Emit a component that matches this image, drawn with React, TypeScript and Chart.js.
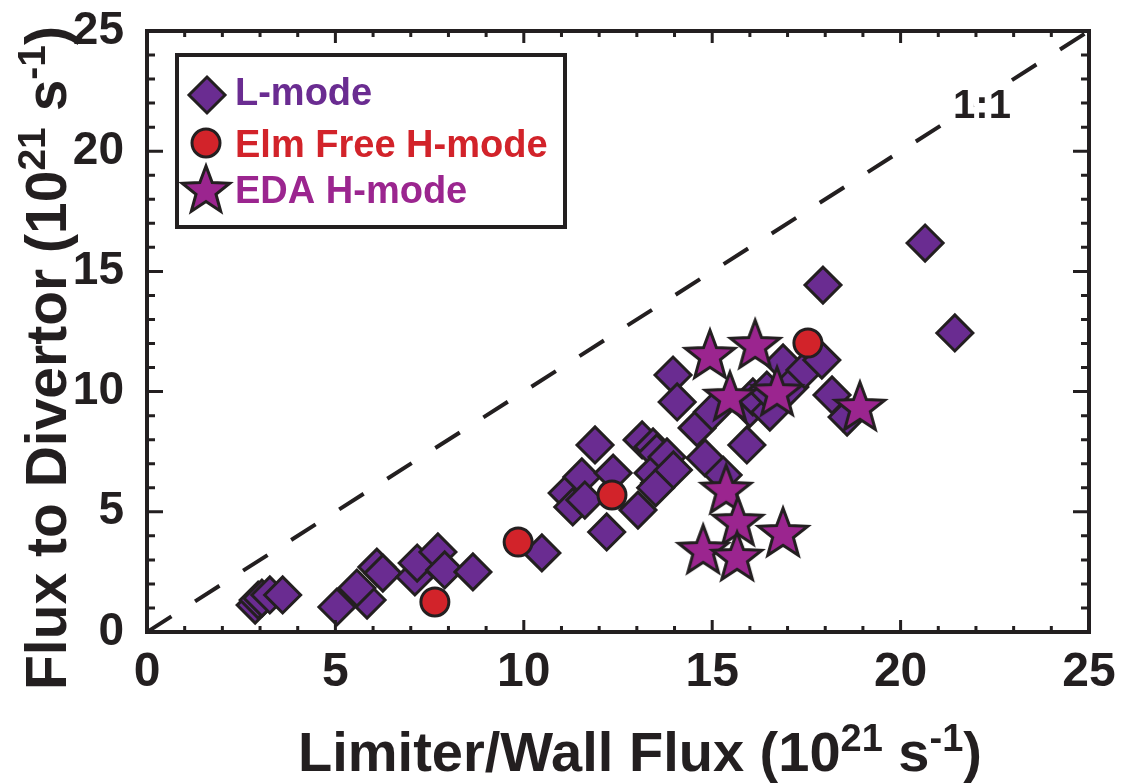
import { useEffect, useRef } from 'react';
import { Chart, registerables } from 'chart.js';

Chart.register(...registerables);

const FONT = '"Liberation Sans", Arial, Helvetica, sans-serif';

// ---- data ----
const lModeX = [2.87, 2.95, 3.05, 3.26, 3.6, 5.04, 5.84, 5.57, 6.1, 6.26, 7.11, 7.17, 7.72, 7.9, 8.65, 10.48,
  11.15, 11.3, 11.54, 11.62, 11.89, 12.2, 12.37, 13.03, 13.14, 13.43, 13.53, 13.6, 13.43, 13.8, 13.5, 13.97,
  13.96, 14.07, 14.6, 14.81, 15.0, 15.29, 15.92, 16.0, 16.08, 16.53, 16.45, 16.88, 17.06, 17.46, 17.91, 17.94,
  18.18, 18.58, 20.65, 21.44];
const lModeY = [1.12, 1.33, 1.41, 1.54, 1.54, 1.04, 1.33, 1.83, 2.7, 2.45, 2.29, 2.87, 3.33, 2.58, 2.5, 3.29,
  5.78, 5.2, 6.45, 5.49, 7.78, 4.16, 6.61, 5.07, 7.99, 7.7, 7.45, 6.2, 6.61, 7.28, 6.0, 6.74,
  10.69, 9.57, 8.49, 7.24, 9.15, 6.53, 7.78, 9.3, 9.78, 9.15, 10.06, 11.19, 10.19, 10.9, 11.31, 14.43,
  9.86, 8.94, 16.18, 12.44];
const elmX = [7.64, 9.85, 12.34, 17.54];
const elmY = [1.25, 3.74, 5.7, 12.02];
const edaX = [14.94, 16.14, 15.47, 16.72, 18.92, 15.37, 15.68, 16.88, 14.76, 15.66];
const edaY = [11.52, 11.94, 9.78, 9.98, 9.36, 5.91, 4.58, 4.12, 3.41, 3.12];
const unityLine = [0, 25];
const xTickValues = [0, 5, 10, 15, 20, 25];
const yTickValues = [0, 5, 10, 15, 20, 25];
const minorStep = 1;
const seriesLabels = ['L-mode', 'Elm Free H-mode', 'EDA H-mode'];
const unityLabel = '1:1';
const xTitleParts = ['Limiter/Wall Flux (10', '21', ' s', '-1', ')'];
const yTitleParts = ['Flux to Divertor (10', '21', ' s', '-1', ')'];

// ---- styles ----
const EDGE = '#231f20';
const PURPLE = '#6a2c91';
const RED = '#d2232a';
const MAGENTA = '#9b258f';

function starPath(ctx: CanvasRenderingContext2D, cx: number, cy: number, R: number, r: number) {
  ctx.beginPath();
  for (let i = 0; i < 10; i++) {
    const a = -Math.PI / 2 + (i * Math.PI) / 5;
    const rad = i % 2 === 0 ? R : r;
    const px = cx + Math.cos(a) * rad;
    const py = cy + Math.sin(a) * rad;
    if (i === 0) ctx.moveTo(px, py);
    else ctx.lineTo(px, py);
  }
  ctx.closePath();
}

function makeStar(R: number): HTMLCanvasElement {
  const c = document.createElement('canvas');
  const s = Math.ceil(2 * (R + 3));
  c.width = s;
  c.height = s;
  const ctx = c.getContext('2d')!;
  starPath(ctx, s / 2, s / 2 + R * 0.05, R, R * 0.42);
  ctx.fillStyle = MAGENTA;
  ctx.fill();
  ctx.lineWidth = 3;
  ctx.strokeStyle = EDGE;
  ctx.lineJoin = 'miter';
  ctx.stroke();
  return c;
}

function drawParts(ctx: CanvasRenderingContext2D, parts: string[], size: number, x0: number, y0: number) {
  const big = `bold ${size}px ${FONT}`;
  const small = `bold ${Math.round(size * 0.68)}px ${FONT}`;
  const raise = size * 0.36;
  const widths = parts.map((p, i) => {
    ctx.font = i % 2 === 1 ? small : big;
    return ctx.measureText(p).width;
  });
  const total = widths.reduce((a, b) => a + b, 0);
  let x = x0 - total / 2;
  parts.forEach((p, i) => {
    ctx.font = i % 2 === 1 ? small : big;
    ctx.fillText(p, x, i % 2 === 1 ? y0 - raise : y0);
    x += widths[i];
  });
}

const decorPlugin = {
  id: 'decor',
  afterDraw(chart: any) {
    const { ctx, chartArea: ca, scales } = chart;
    const xs = scales.x;
    const ys = scales.y;
    ctx.save();
    // frame
    ctx.strokeStyle = EDGE;
    ctx.lineWidth = 4;
    ctx.strokeRect(ca.left, ca.top, ca.right - ca.left, ca.bottom - ca.top);
    // ticks
    ctx.lineWidth = 3;
    ctx.beginPath();
    for (let v = 0; v <= 25 + 1e-9; v += minorStep) {
      const major = xTickValues.includes(v);
      const px = xs.getPixelForValue(v);
      const lx = major ? 12 : 6;
      ctx.moveTo(px, ca.bottom);
      ctx.lineTo(px, ca.bottom - lx);
      ctx.moveTo(px, ca.top);
      ctx.lineTo(px, ca.top + lx);
      const py = ys.getPixelForValue(v);
      const ly = major ? 16 : 8;
      ctx.moveTo(ca.left, py);
      ctx.lineTo(ca.left + ly, py);
      ctx.moveTo(ca.right, py);
      ctx.lineTo(ca.right - ly, py);
    }
    ctx.stroke();

    // 1:1 label (white halo keeps it clear of the dashed line)
    ctx.font = `bold 40px ${FONT}`;
    ctx.textAlign = 'center';
    ctx.textBaseline = 'alphabetic';
    ctx.lineJoin = 'round';
    ctx.lineWidth = 12;
    ctx.strokeStyle = '#ffffff';
    ctx.strokeText(unityLabel, 982, 118);
    ctx.fillStyle = EDGE;
    ctx.fillText(unityLabel, 982, 118);
    ctx.lineJoin = 'miter';

    // legend
    const lx0 = 177, ly0 = 55, lx1 = 565, ly1 = 227;
    ctx.fillStyle = '#ffffff';
    ctx.fillRect(lx0, ly0, lx1 - lx0, ly1 - ly0);
    ctx.lineWidth = 4;
    ctx.strokeStyle = EDGE;
    ctx.strokeRect(lx0, ly0, lx1 - lx0, ly1 - ly0);
    // diamond
    ctx.lineWidth = 3;
    ctx.beginPath();
    ctx.moveTo(207, 95 - 18);
    ctx.lineTo(207 + 18, 95);
    ctx.lineTo(207, 95 + 18);
    ctx.lineTo(207 - 18, 95);
    ctx.closePath();
    ctx.fillStyle = PURPLE;
    ctx.fill();
    ctx.stroke();
    // circle
    ctx.beginPath();
    ctx.arc(206, 143, 14, 0, Math.PI * 2);
    ctx.fillStyle = RED;
    ctx.fill();
    ctx.stroke();
    // star
    starPath(ctx, 206, 191, 25, 25 * 0.42);
    ctx.fillStyle = MAGENTA;
    ctx.fill();
    ctx.stroke();
    // labels
    ctx.textAlign = 'left';
    ctx.font = `bold 38px ${FONT}`;
    ctx.fillStyle = PURPLE;
    ctx.fillText(seriesLabels[0], 235, 105);
    ctx.fillStyle = RED;
    ctx.fillText(seriesLabels[1], 235, 157);
    ctx.fillStyle = MAGENTA;
    ctx.fillText(seriesLabels[2], 235, 203);

    // axis titles
    ctx.fillStyle = EDGE;
    ctx.textAlign = 'left';
    drawParts(ctx, xTitleParts, 56, 640, 771);
    ctx.save();
    ctx.translate(66, 358);
    ctx.rotate(-Math.PI / 2);
    drawParts(ctx, yTitleParts, 57, 0, 0);
    ctx.restore();

    ctx.restore();
  },
};

export default function App() {
  const ref = useRef<HTMLCanvasElement | null>(null);

  useEffect(() => {
    document.body.style.margin = '0';
    const canvas = ref.current!;
    const star = makeStar(26);
    const chart = new Chart(canvas, {
      type: 'scatter',
      data: {
        datasets: [
          {
            type: 'line',
            label: 'unity',
            data: unityLine.map((v) => ({ x: v, y: v })),
            borderColor: EDGE,
            borderWidth: 4,
            borderDash: [29, 28],
            pointRadius: 0,
            fill: false,
            order: 4,
          } as any,
          {
            label: seriesLabels[0],
            data: lModeX.map((x, i) => ({ x, y: lModeY[i] })),
            pointStyle: 'rectRot',
            pointRadius: 18,
            pointBackgroundColor: PURPLE,
            pointBorderColor: EDGE,
            pointBorderWidth: 3,
            order: 3,
          },
          {
            label: seriesLabels[1],
            data: elmX.map((x, i) => ({ x, y: elmY[i] })),
            pointStyle: 'circle',
            pointRadius: 14,
            pointBackgroundColor: RED,
            pointBorderColor: EDGE,
            pointBorderWidth: 3,
            order: 2,
          },
          {
            label: seriesLabels[2],
            data: edaX.map((x, i) => ({ x, y: edaY[i] })),
            pointStyle: star as any,
            pointRadius: 26,
            order: 1,
          },
        ],
      },
      options: {
        animation: false,
        responsive: false,
        devicePixelRatio: 1,
        layout: { padding: { top: 31, right: 33, left: 0, bottom: 0 } },
        plugins: { legend: { display: false }, tooltip: { enabled: false }, title: { display: false } },
        scales: {
          x: {
            type: 'linear',
            min: 0,
            max: 25,
            grid: { display: false },
            border: { display: false },
            ticks: {
              color: EDGE,
              font: { family: FONT, size: 48, weight: 'bold' },
              padding: 4,
              maxRotation: 0,
              autoSkip: false,
            },
            afterBuildTicks: (s: any) => {
              s.ticks = xTickValues.map((v) => ({ value: v }));
            },
            afterFit: (s: any) => {
              s.height = 151;
              s.paddingLeft = 0;
              s.paddingRight = 0;
            },
          },
          y: {
            type: 'linear',
            min: 0,
            max: 25,
            grid: { display: false },
            border: { display: false },
            ticks: {
              color: EDGE,
              font: { family: FONT, size: 46, weight: 'bold' },
              padding: 15,
              autoSkip: false,
            },
            afterBuildTicks: (s: any) => {
              s.ticks = yTickValues.map((v) => ({ value: v }));
            },
            afterFit: (s: any) => {
              s.width = 147;
              s.paddingTop = 0;
              s.paddingBottom = 0;
            },
          },
        },
      },
      plugins: [decorPlugin],
    });
    return () => chart.destroy();
  }, []);

  return (
    <div style={{ position: 'absolute', left: 0, top: 0, width: 1122, height: 783, background: '#fff' }}>
      <canvas ref={ref} width={1122} height={783} style={{ display: 'block' }} />
    </div>
  );
}
